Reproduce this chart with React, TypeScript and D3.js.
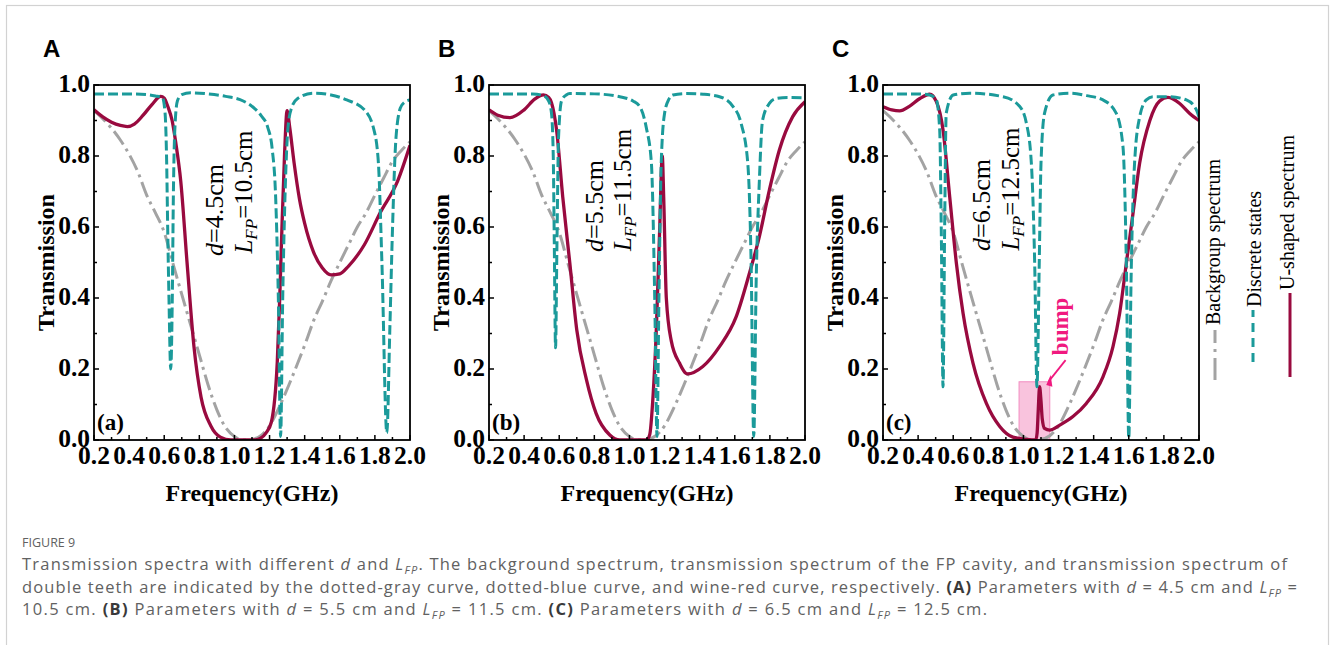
import React from "react";
import * as d3 from "d3";

type Pt = [number, number];

// ---------- tick values ----------
const freqTicksMajor = [0.2, 0.4, 0.6, 0.8, 1.0, 1.2, 1.4, 1.6, 1.8, 2.0];
const freqTicksMinor = [0.3, 0.5, 0.7, 0.9, 1.1, 1.3, 1.5, 1.7, 1.9];
const transTicksMajor = [0, 0.2, 0.4, 0.6, 0.8, 1.0];
const transTicksMinor = [0.1, 0.3, 0.5, 0.7, 0.9];

// ---------- series (frequency GHz, transmission) ----------
const backgroundSpectrum: Pt[] = [
  [0.2, 0.928], [0.25, 0.905], [0.3, 0.878], [0.35, 0.845], [0.4, 0.805], [0.45, 0.755],
  [0.5, 0.69], [0.55, 0.64], [0.6, 0.585], [0.65, 0.497], [0.7, 0.41], [0.75, 0.325],
  [0.8, 0.24], [0.85, 0.155], [0.9, 0.085], [0.95, 0.035], [1.0, 0.01], [1.05, 0.0],
  [1.1, 0.002], [1.15, 0.012], [1.2, 0.04], [1.26, 0.098], [1.31, 0.155], [1.36, 0.216],
  [1.41, 0.28], [1.45, 0.335], [1.5, 0.39], [1.55, 0.448], [1.6, 0.5], [1.65, 0.55],
  [1.7, 0.6], [1.75, 0.64], [1.8, 0.69], [1.85, 0.738], [1.9, 0.785], [1.95, 0.815], [2.0, 0.84],
];

const discreteA: Pt[] = [
  [0.2, 0.975], [0.4, 0.975], [0.5, 0.973], [0.55, 0.969], [0.59, 0.964], [0.605, 0.92],
  [0.614, 0.78], [0.62, 0.59], [0.627, 0.4], [0.637, 0.2], [0.646, 0.4], [0.652, 0.685],
  [0.66, 0.87], [0.675, 0.955], [0.7, 0.973], [0.75, 0.978], [0.85, 0.975], [0.95, 0.968],
  [1.05, 0.955], [1.1, 0.94], [1.15, 0.915], [1.19, 0.88], [1.215, 0.82], [1.235, 0.68],
  [1.25, 0.4], [1.263, 0.01], [1.275, 0.4], [1.29, 0.72], [1.305, 0.88], [1.325, 0.935],
  [1.36, 0.962], [1.45, 0.977], [1.55, 0.972], [1.64, 0.958], [1.74, 0.93], [1.795, 0.873],
  [1.82, 0.78], [1.84, 0.5], [1.868, 0.02], [1.885, 0.31], [1.9, 0.59], [1.92, 0.85],
  [1.945, 0.935], [1.97, 0.952], [2.0, 0.958],
];

const uShapedA: Pt[] = [
  [0.2, 0.93], [0.25, 0.91], [0.3, 0.895], [0.35, 0.886], [0.39, 0.883], [0.43, 0.89],
  [0.48, 0.915], [0.53, 0.945], [0.58, 0.968], [0.6, 0.963], [0.62, 0.94], [0.645, 0.9],
  [0.665, 0.84], [0.694, 0.73], [0.73, 0.5], [0.77, 0.26], [0.81, 0.12], [0.865, 0.04],
  [0.92, 0.008], [0.98, 0.0], [1.12, 0.0], [1.15, 0.005], [1.18, 0.02], [1.21, 0.05],
  [1.244, 0.22], [1.258, 0.4], [1.27, 0.59], [1.285, 0.8], [1.3, 0.928], [1.315, 0.88],
  [1.34, 0.78], [1.37, 0.68], [1.4, 0.61], [1.45, 0.53], [1.5, 0.485], [1.55, 0.465],
  [1.6, 0.468], [1.65, 0.49], [1.74, 0.55], [1.83, 0.64], [1.93, 0.73], [2.0, 0.83],
];

const discreteB: Pt[] = [
  [0.2, 0.975], [0.45, 0.975], [0.51, 0.97], [0.54, 0.955], [0.556, 0.92], [0.566, 0.8],
  [0.572, 0.55], [0.579, 0.26], [0.587, 0.55], [0.596, 0.85], [0.613, 0.955], [0.64, 0.972],
  [0.66, 0.976], [0.8, 0.975], [0.945, 0.967], [1.02, 0.955], [1.058, 0.94], [1.096, 0.88],
  [1.125, 0.78], [1.144, 0.4], [1.157, 0.01], [1.168, 0.4], [1.181, 0.78], [1.2, 0.92],
  [1.225, 0.96], [1.248, 0.972], [1.324, 0.976], [1.42, 0.974], [1.513, 0.967], [1.589, 0.94],
  [1.636, 0.892], [1.674, 0.78], [1.693, 0.5], [1.708, 0.01], [1.722, 0.45], [1.74, 0.73],
  [1.758, 0.9], [1.797, 0.948], [1.835, 0.962], [1.9, 0.965], [2.0, 0.964],
];

const uShapedB: Pt[] = [
  [0.2, 0.93], [0.25, 0.915], [0.32, 0.908], [0.4, 0.93], [0.46, 0.96], [0.51, 0.972],
  [0.54, 0.965], [0.556, 0.95], [0.585, 0.873], [0.62, 0.685], [0.66, 0.5], [0.7, 0.31],
  [0.755, 0.17], [0.81, 0.075], [0.888, 0.014], [0.945, 0.0], [1.096, 0.0], [1.115, 0.014],
  [1.134, 0.12], [1.153, 0.31], [1.172, 0.59], [1.187, 0.8], [1.195, 0.685], [1.21, 0.4],
  [1.238, 0.28], [1.286, 0.216], [1.33, 0.186], [1.418, 0.207], [1.513, 0.263], [1.607, 0.346],
  [1.683, 0.469], [1.74, 0.573], [1.797, 0.704], [1.854, 0.817], [1.93, 0.911], [2.0, 0.953],
];

const discreteC: Pt[] = [
  [0.2, 0.975], [0.4, 0.975], [0.466, 0.972], [0.504, 0.958], [0.523, 0.873], [0.532, 0.59],
  [0.542, 0.15], [0.551, 0.59], [0.56, 0.92], [0.6, 0.972], [0.694, 0.977], [0.884, 0.967],
  [0.978, 0.94], [1.017, 0.892], [1.045, 0.78], [1.064, 0.498], [1.077, 0.15], [1.09, 0.498],
  [1.1, 0.78], [1.12, 0.92], [1.168, 0.972], [1.263, 0.977], [1.36, 0.97], [1.453, 0.958],
  [1.529, 0.92], [1.567, 0.826], [1.586, 0.498], [1.6, 0.005], [1.613, 0.45], [1.633, 0.78],
  [1.662, 0.91], [1.7, 0.958], [1.738, 0.967], [1.833, 0.967], [1.928, 0.958], [1.985, 0.93],
  [2.0, 0.91],
];

const uShapedC: Pt[] = [
  [0.2, 0.939], [0.25, 0.93], [0.295, 0.927], [0.35, 0.94], [0.41, 0.962], [0.466, 0.974],
  [0.504, 0.953], [0.542, 0.873], [0.58, 0.685], [0.618, 0.498], [0.656, 0.357], [0.713, 0.216],
  [0.789, 0.103], [0.865, 0.038], [0.94, 0.008], [1.017, 0.002], [1.07, 0.0], [1.078, 0.02],
  [1.084, 0.08], [1.092, 0.15], [1.1, 0.11], [1.107, 0.06], [1.12, 0.033], [1.15, 0.028],
  [1.207, 0.042], [1.282, 0.066], [1.358, 0.103], [1.453, 0.178], [1.51, 0.263], [1.548, 0.357],
  [1.586, 0.498], [1.624, 0.638], [1.662, 0.78], [1.72, 0.9], [1.776, 0.955], [1.823, 0.965],
  [1.89, 0.948], [1.947, 0.92], [2.0, 0.9],
];

// bump region in panel C (frequency range and transmission height)
const bumpFreq = [0.975, 1.15];
const bumpTrans = 0.164;

const panelLetters = ["A", "B", "C"];
const panelTags = ["(a)", "(b)", "(c)"];
const dValues = ["4.5", "5.5", "6.5"];
const lfpValues = ["10.5", "11.5", "12.5"];
const legendLabels = ["Backgroup spectrum", "Discrete states", "U-shaped spectrum"];

// ---------- styles / layout ----------
const SERIF = "'Liberation Serif','Times New Roman',Times,serif";
const SANS = "'Liberation Sans',Arial,Helvetica,sans-serif";
const CAPTION = "'Open Sans','Noto Sans',sans-serif";
const RED = "#990a3f";
const TEAL = "#1b9a9a";
const GRAY = "#a3a3a3";
const PINK = "#f0197f";

const TOP = 85;
const H = 355;
const W = 316;
const panelLefts = [94, 489, 883];
const annotD = [[223, 210], [603, 206], [990, 205]];
const annotL = [[252, 192], [631, 190], [1019, 189]];

const panels = [0, 1, 2].map((i) => ({
  letter: panelLetters[i],
  tag: panelTags[i],
  d: dValues[i],
  lfp: lfpValues[i],
  discrete: [discreteA, discreteB, discreteC][i],
  ushaped: [uShapedA, uShapedB, uShapedC][i],
  left: panelLefts[i],
  annD: annotD[i],
  annL: annotL[i],
  bump: i === 2,
}));

function Panel({ cfg, idx }: { cfg: any; idx: number }) {
  const x = d3.scaleLinear().domain([0.2, 2.0]).range([cfg.left, cfg.left + W]);
  const y = d3.scaleLinear().domain([0, 1]).range([TOP + H, TOP]);
  const line = d3
    .line<Pt>()
    .x((d) => x(d[0]))
    .y((d) => y(d[1]))
    .curve(d3.curveMonotoneX);
  const clipId = `clip-${idx}`;
  const bottom = TOP + H;
  return (
    <g>
      <defs>
        <clipPath id={clipId}>
          <rect x={cfg.left} y={TOP} width={W} height={H} />
        </clipPath>
      </defs>
      <text x={cfg.left - 51} y={57} fontFamily={SANS} fontWeight="bold" fontSize={24} fill="#000">
        {cfg.letter}
      </text>
      {cfg.bump && (
        <rect
          x={x(bumpFreq[0])}
          y={y(bumpTrans)}
          width={x(bumpFreq[1]) - x(bumpFreq[0])}
          height={y(0) - y(bumpTrans)}
          fill="#f8bcd9"
          fillOpacity={0.9}
          stroke="#f28cc0"
          strokeWidth={1}
        />
      )}
      <g clipPath={`url(#${clipId})`}>
        <path d={line(backgroundSpectrum) || ""} fill="none" stroke={GRAY} strokeWidth={3} strokeDasharray="16,5,3,5" />
        <path d={line(cfg.ushaped) || ""} fill="none" stroke={RED} strokeWidth={3.3} strokeLinejoin="round" />
        <path d={line(cfg.discrete) || ""} fill="none" stroke={TEAL} strokeWidth={3} strokeDasharray="10,4" />
      </g>
      <rect x={cfg.left} y={TOP} width={W} height={H} fill="none" stroke="#000" strokeWidth={1.8} />
      {freqTicksMajor.map((t) => (
        <g key={"xm" + t}>
          <line x1={x(t)} x2={x(t)} y1={bottom} y2={bottom - 5} stroke="#000" strokeWidth={1.5} />
          <text x={x(t)} y={464} textAnchor="middle" fontFamily={SERIF} fontWeight="bold" fontSize={25.5}>
            {t.toFixed(1)}
          </text>
        </g>
      ))}
      {freqTicksMinor.map((t) => (
        <line key={"xn" + t} x1={x(t)} x2={x(t)} y1={bottom} y2={bottom - 3} stroke="#000" strokeWidth={1.5} />
      ))}
      {transTicksMajor.map((t) => (
        <g key={"ym" + t}>
          <line x1={cfg.left} x2={cfg.left + 5} y1={y(t)} y2={y(t)} stroke="#000" strokeWidth={1.5} />
          <text x={cfg.left - 4} y={y(t) + 7} textAnchor="end" fontFamily={SERIF} fontWeight="bold" fontSize={25.5}>
            {t.toFixed(1)}
          </text>
        </g>
      ))}
      {transTicksMinor.map((t) => (
        <line key={"yn" + t} x1={cfg.left} x2={cfg.left + 3} y1={y(t)} y2={y(t)} stroke="#000" strokeWidth={1.5} />
      ))}
      <text x={cfg.left + W / 2} y={501} textAnchor="middle" fontFamily={SERIF} fontWeight="bold" fontSize={24}>
        Frequency(GHz)
      </text>
      <text
        transform={`translate(${cfg.left - 40},${TOP + H / 2}) rotate(-90)`}
        textAnchor="middle"
        fontFamily={SERIF}
        fontWeight="bold"
        fontSize={24}
      >
        Transmission
      </text>
      <text x={cfg.left + 3} y={430} fontFamily={SERIF} fontWeight="bold" fontSize={23}>
        {cfg.tag}
      </text>
      <text
        transform={`translate(${cfg.annD[0]},${cfg.annD[1]}) rotate(-90)`}
        textAnchor="middle"
        fontFamily={SERIF}
        fontSize={26}
      >
        <tspan fontStyle="italic">d</tspan>
        <tspan>{"=" + cfg.d + "cm"}</tspan>
      </text>
      <text
        transform={`translate(${cfg.annL[0]},${cfg.annL[1]}) rotate(-90)`}
        textAnchor="middle"
        fontFamily={SERIF}
        fontSize={25}
      >
        <tspan fontStyle="italic">L</tspan>
        <tspan fontStyle="italic" fontSize={17} dy={5}>
          FP
        </tspan>
        <tspan dy={-5}>{"=" + cfg.lfp + "cm"}</tspan>
      </text>
      {cfg.bump && (
        <g>
          <text
            transform={`translate(${x(1.238) + 3},${y(0.32)}) rotate(-90)`}
            textAnchor="middle"
            fontFamily={SERIF}
            fontWeight="bold"
            fontSize={23}
            fill={PINK}
          >
            bump
          </text>
          <line x1={x(1.24)} y1={y(0.225)} x2={x(1.145)} y2={y(0.166)} stroke={PINK} strokeWidth={1.8} />
          <path
            d={`M${x(1.13)},${y(0.155)} L${x(1.155)},${y(0.183)} L${x(1.142) + 4},${y(0.15)} Z`}
            fill={PINK}
          />
        </g>
      )}
    </g>
  );
}

function Legend() {
  return (
    <g>
      <line x1={1215} x2={1215} y1={380} y2={330} stroke={GRAY} strokeWidth={3} strokeDasharray="22,6,3,6" />
      <text transform="translate(1220,325) rotate(-90)" fontFamily={SERIF} fontSize={20} fill="#000">
        {legendLabels[0]}
      </text>
      <line x1={1253} x2={1253} y1={362} y2={310} stroke={TEAL} strokeWidth={3} strokeDasharray="9,6" />
      <text transform="translate(1261,307) rotate(-90)" fontFamily={SERIF} fontSize={20} fill="#000">
        {legendLabels[1]}
      </text>
      <line x1={1290} x2={1290} y1={377} y2={293} stroke={RED} strokeWidth={3} />
      <text transform="translate(1294,290) rotate(-90)" fontFamily={SERIF} fontSize={20} fill="#000">
        {legendLabels[2]}
      </text>
    </g>
  );
}

function Caption() {
  const c = "#616161";
  const b = "#3a3a3a";
  return (
    <g fontFamily={CAPTION} fill={c}>
      <text x={22} y={547} fontSize={12.5}>FIGURE 9</text>
      <text x={22} y={570} fontSize={16.5} textLength={1265} lengthAdjust="spacing">
        {"Transmission spectra with different "}
        <tspan fontStyle="italic">d</tspan>
        {" and "}
        <tspan fontStyle="italic">L</tspan>
        <tspan fontStyle="italic" fontSize={11} dy={4}>FP</tspan>
        <tspan dy={-4}>
          {". The background spectrum, transmission spectrum of the FP cavity, and transmission spectrum of"}
        </tspan>
      </text>
      <text x={22} y={593} fontSize={16.5} textLength={1275} lengthAdjust="spacing">
        {"double teeth are indicated by the dotted-gray curve, dotted-blue curve, and wine-red curve, respectively. "}
        <tspan fontWeight="bold" fill={b}>(A)</tspan>
        {" Parameters with "}
        <tspan fontStyle="italic">d</tspan>
        {" = 4.5 cm and "}
        <tspan fontStyle="italic">L</tspan>
        <tspan fontStyle="italic" fontSize={11} dy={4}>FP</tspan>
        <tspan dy={-4}>{" ="}</tspan>
      </text>
      <text x={22} y={615} fontSize={16.5} textLength={965} lengthAdjust="spacing">
        {"10.5 cm. "}
        <tspan fontWeight="bold" fill={b}>(B)</tspan>
        {" Parameters with "}
        <tspan fontStyle="italic">d</tspan>
        {" = 5.5 cm and "}
        <tspan fontStyle="italic">L</tspan>
        <tspan fontStyle="italic" fontSize={11} dy={4}>FP</tspan>
        <tspan dy={-4}>{" = 11.5 cm. "}</tspan>
        <tspan fontWeight="bold" fill={b}>(C)</tspan>
        {" Parameters with "}
        <tspan fontStyle="italic">d</tspan>
        {" = 6.5 cm and "}
        <tspan fontStyle="italic">L</tspan>
        <tspan fontStyle="italic" fontSize={11} dy={4}>FP</tspan>
        <tspan dy={-4}>{" = 12.5 cm."}</tspan>
      </text>
    </g>
  );
}

export default function App() {
  return (
    <svg
      width={1330}
      height={645}
      viewBox="0 0 1330 645"
      style={{ position: "absolute", left: 0, top: 0, background: "#fff" }}
    >
      <rect x={0} y={0} width={1330} height={645} fill="#fff" />
      <rect x={6.5} y={5.5} width={1322} height={700} fill="none" stroke="#d2d2d2" strokeWidth={1.2} />
      {panels.map((p, i) => (
        <Panel key={i} cfg={p} idx={i} />
      ))}
      <Legend />
      <Caption />
    </svg>
  );
}
